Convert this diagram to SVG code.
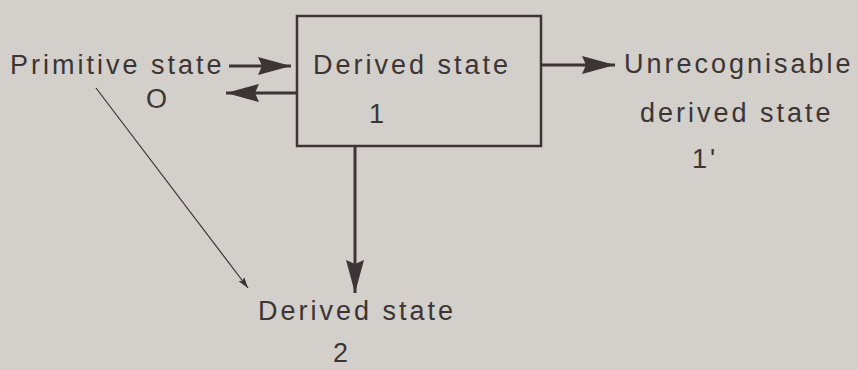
<svg xmlns="http://www.w3.org/2000/svg" width="858" height="370" viewBox="0 0 858 370">
<style>
text{font-family:"Liberation Sans",Arial,sans-serif;font-size:27px;fill:#3b3536;letter-spacing:3px}
.c{stroke:#3b3536;fill:none}
.thick{stroke-width:3}
.thin{stroke-width:1.2}
</style>
<defs>
<marker id="big" markerUnits="userSpaceOnUse" viewBox="0 0 34 20" refX="33" refY="10" markerWidth="34" markerHeight="20" orient="auto">
<path d="M0,1 L33,10 L0,19 L4,10 z" fill="#3b3536"/>
</marker>
<marker id="small" markerUnits="userSpaceOnUse" viewBox="0 0 12 8" refX="11" refY="4" markerWidth="12" markerHeight="8" orient="auto">
<path d="M0,0.5 L11,4 L0,7.5 L2,4 z" fill="#3b3536"/>
</marker>
</defs>
<rect width="858" height="370" fill="#d3cfca"/>
<g id="n0">
<text x="10" y="74">Primitive state</text>
<text x="146" y="108">O</text>
</g>
<g id="n1">
<rect x="297" y="16" width="244" height="130" fill="none" stroke="#3b3536" stroke-width="2.5"/>
<text x="313" y="74">Derived state</text>
<text x="369" y="123">1</text>
</g>
<g id="n1p">
<text x="624" y="73">Unrecognisable</text>
<text x="640" y="122">derived state</text>
<text x="692" y="168">1'</text>
</g>
<g id="n2">
<text x="258" y="320">Derived state</text>
<text x="333" y="362">2</text>
</g>
<g id="connectors">
<line class="c thick" x1="229" y1="66" x2="291" y2="66" marker-end="url(#big)"/>
<line class="c thick" x1="297" y1="93" x2="226" y2="93" marker-end="url(#big)"/>
<line class="c thick" x1="541" y1="65" x2="615" y2="65" marker-end="url(#big)"/>
<line class="c thick" x1="355" y1="146" x2="355" y2="293" marker-end="url(#big)"/>
<line class="c thin" x1="96" y1="88" x2="248" y2="288" marker-end="url(#small)"/>
</g>
</svg>
